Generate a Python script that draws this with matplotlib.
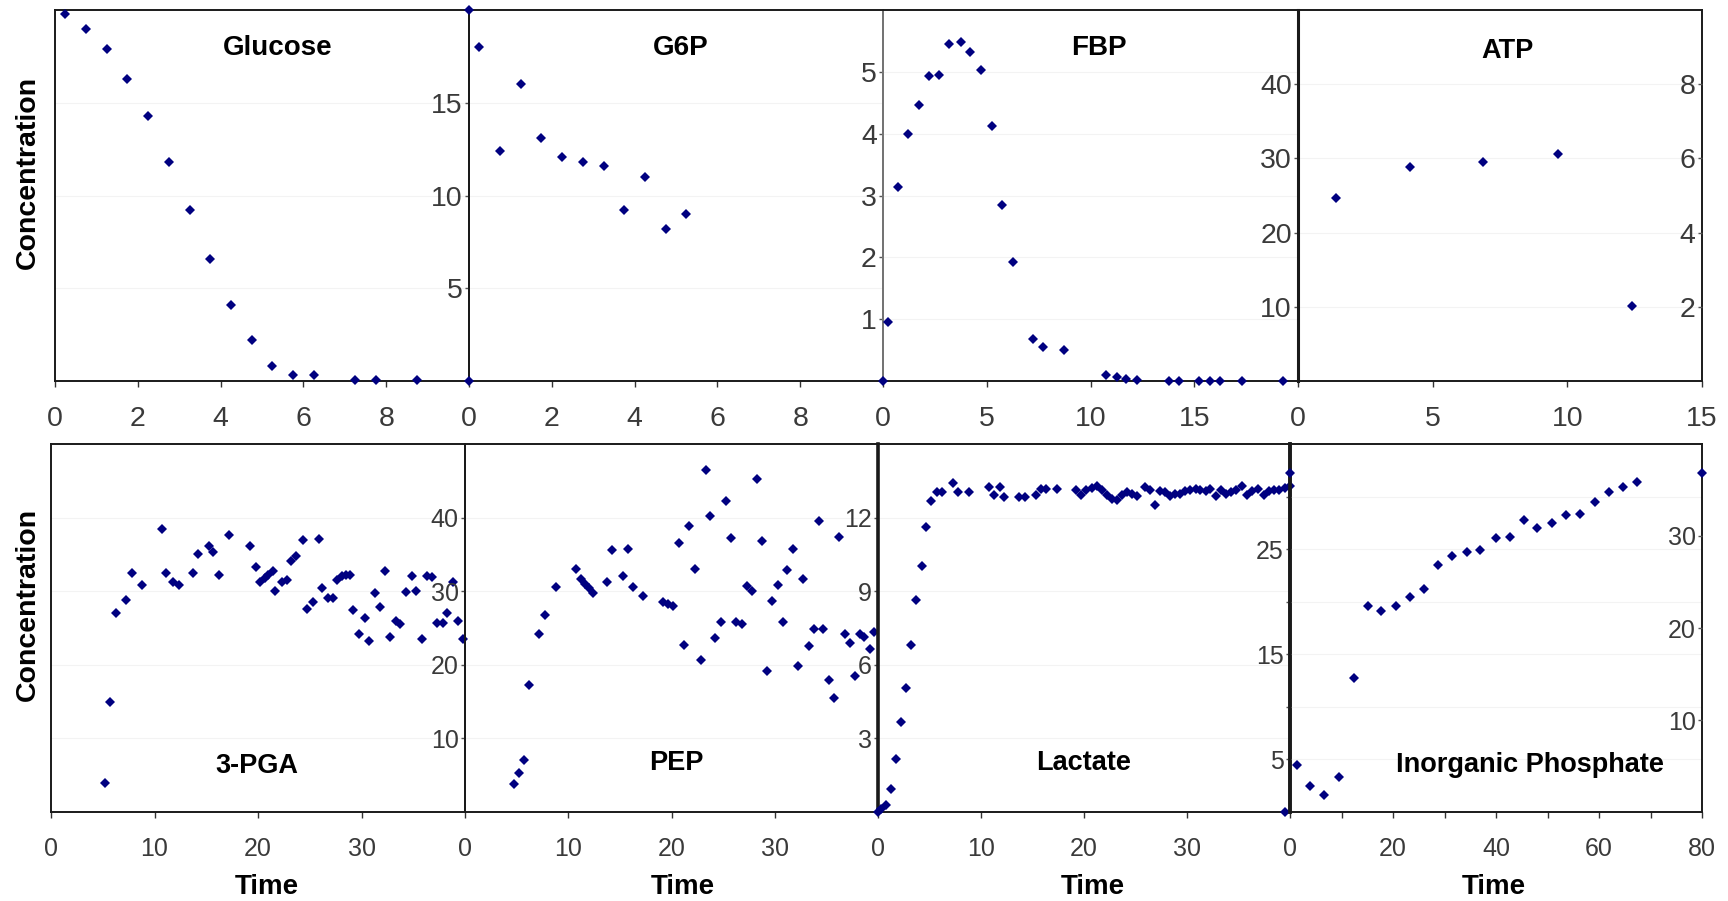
import matplotlib.pyplot as plt

plt.rcParams['font.family'] = ['Liberation Sans', 'DejaVu Sans']

NAVY = '#000080'

# ---- top row data ----
glucose_t = [0.25, 0.75, 1.25, 1.75, 2.25, 2.75, 3.25, 3.75, 4.25, 4.75, 5.25, 5.75, 6.25, 7.25, 7.75, 8.75]
glucose_c = [19.8, 19.0, 17.9, 16.3, 14.3, 11.8, 9.2, 6.6, 4.1, 2.2, 0.8, 0.35, 0.3, 0.08, 0.03, 0.03]

g6p_t = [0, 0, 0.25, 0.75, 1.25, 1.75, 2.25, 2.75, 3.25, 3.75, 4.25, 4.75, 5.25]
g6p_c = [0, 20, 18.0, 12.4, 16.0, 13.1, 12.1, 11.8, 11.6, 9.2, 11.0, 8.2, 9.0]

fbp_t = [0, 0.23, 0.74, 1.19, 1.72, 2.24, 2.72, 3.2, 3.75, 4.2, 4.73, 5.25, 5.73, 6.25,
         7.21, 7.73, 8.73, 10.74, 11.26, 11.72, 12.24, 13.77, 14.28, 15.25, 15.77, 16.25, 17.31, 19.26]
fbp_c = [0, 0.96, 3.13, 3.99, 4.47, 4.93, 4.95, 5.45, 5.49, 5.32, 5.03, 4.13, 2.84, 1.93,
         0.68, 0.55, 0.50, 0.09, 0.07, 0.04, 0.02, 0, 0, 0, 0, 0, 0, 0]

atp_t = [1.4, 4.16, 6.87, 9.64, 12.4]
atp_c = [24.7, 28.8, 29.5, 30.6, 10.1]

# ---- bottom row data ----
pga_t = [5.24, 5.72, 6.27, 7.27, 7.82, 8.78, 10.77, 11.13, 11.78, 12.32, 13.76, 14.25, 15.28, 15.7,
         16.25, 17.21, 19.24, 19.82, 20.2, 20.68, 21.0, 21.43, 21.68, 22.3, 22.84, 23.17, 23.68,
         24.32, 24.71, 25.29, 25.87, 26.19, 26.8, 27.28, 27.67, 28.09, 28.5, 28.89, 29.21, 29.76,
         30.34, 30.72, 31.3, 31.78, 32.27, 32.75, 33.33, 33.72, 34.29, 34.84, 35.26, 35.8, 36.29,
         36.84, 37.26, 37.84, 38.28, 38.8, 39.35, 39.77]
pga_c = [3.9, 15.0, 27.1, 28.8, 32.5, 30.9, 38.4, 32.5, 31.3, 30.9, 32.5, 35.1, 36.2, 35.3,
         32.2, 37.6, 36.1, 33.3, 31.3, 31.8, 32.2, 32.7, 30.0, 31.3, 31.5, 34.1, 34.8,
         37.0, 27.6, 28.6, 37.1, 30.4, 29.1, 29.1, 31.5, 32.0, 32.2, 32.2, 27.4, 24.2,
         26.3, 23.3, 29.7, 27.9, 32.7, 23.8, 26.0, 25.6, 29.9, 32.1, 30.0, 23.5, 32.0,
         31.9, 25.7, 25.7, 27.0, 31.3, 25.9, 23.5]

pep_t = [4.75, 5.27, 5.72, 6.2, 7.2, 7.75, 8.82, 10.72, 11.21, 11.63, 12.02, 12.37, 13.73, 14.24,
         15.28, 15.83, 16.31, 17.22, 19.22, 19.7, 20.19, 20.7, 21.25, 21.74, 22.29, 22.84, 23.32,
         23.74, 24.22, 24.78, 25.26, 25.78, 26.26, 26.81, 27.29, 27.78, 28.26, 28.78, 29.29, 29.78,
         30.36, 30.84, 31.23, 31.75, 32.24, 32.78, 33.27, 33.82, 34.3, 34.72, 35.21, 35.76, 36.24,
         36.76, 37.31, 37.79, 38.21, 38.69, 39.24, 39.66]
pep_c = [3.8, 5.3, 7.1, 17.3, 24.2, 26.8, 30.6, 33.0, 31.7, 31.0, 30.4, 29.8, 31.3, 35.6,
         32.0, 35.8, 30.6, 29.4, 28.6, 28.3, 28.0, 36.5, 22.7, 38.8, 33.0, 20.7, 46.4,
         40.2, 23.7, 25.8, 42.2, 37.2, 25.8, 25.6, 30.7, 30.0, 45.3, 36.8, 19.1, 28.7,
         30.8, 25.8, 32.9, 35.8, 19.9, 31.6, 22.6, 24.8, 39.6, 24.9, 17.9, 15.5, 37.4,
         24.2, 22.9, 18.5, 24.2, 23.8, 22.1, 24.4]

lac_t = [0, 0.33, 0.75, 1.23, 1.72, 2.27, 2.76, 3.24, 3.73, 4.24, 4.7, 5.18, 5.73, 6.21, 7.28, 7.8,
         8.83, 10.75, 11.26, 11.81, 12.24, 13.69, 14.31, 15.38, 15.86, 16.35, 17.42, 19.26, 19.68,
         20.23, 20.78, 21.26, 21.75, 22.23, 22.72, 23.2, 23.69, 24.17, 24.66, 25.15, 25.9, 26.45,
         26.93, 27.35, 27.83, 28.32, 28.81, 29.36, 29.84, 30.33, 30.84, 31.3, 31.82, 32.27, 32.85,
         33.34, 33.83, 34.31, 34.8, 35.38, 35.86, 36.35, 36.89, 37.48, 37.97, 38.45, 38.93, 39.49,
         39.97, 39.5]
lac_c = [0, 0.11, 0.29, 0.93, 2.15, 3.65, 5.05, 6.79, 8.65, 10.01, 11.62, 12.67, 13.03, 13.03, 13.39,
         13.03, 13.03, 13.25, 12.91, 13.25, 12.84, 12.84, 12.84, 12.94, 13.17, 13.17, 13.17, 13.11,
         12.94, 13.14, 13.21, 13.28, 13.11, 12.94, 12.76, 12.71, 12.91, 13.03, 12.98, 12.9, 13.25,
         13.11, 12.53, 13.07, 13.03, 12.9, 12.98, 12.98, 13.07, 13.11, 13.17, 13.11, 13.07, 13.17,
         12.9, 13.11, 12.98, 13.03, 13.11, 13.28, 12.94, 13.07, 13.17, 12.94, 13.07, 13.14, 13.11,
         13.21, 13.28, 0]

pi_t = [0, 1.28, 3.95, 6.67, 9.46, 12.51, 15.1, 17.7, 20.62, 23.35, 26.0, 28.72, 31.52, 34.36,
        36.96, 39.94, 42.67, 45.39, 47.98, 50.97, 53.56, 56.28, 59.2, 61.93, 64.59, 67.32, 80]
pi_c = [36.9, 5.09, 2.8, 1.83, 3.83, 14.59, 22.37, 21.83, 22.37, 23.39, 24.29, 26.83, 27.8, 28.28,
        28.46, 29.73, 29.91, 31.72, 30.89, 31.36, 32.23, 32.34, 33.72, 34.8, 35.35, 35.85, 36.9]

W, H = 1728, 901
fig = plt.figure(figsize=(W / 100, H / 100), dpi=100)


def add_panel(x0, x1, y0, y1):
    ax = fig.add_axes([x0 / W, 1 - y1 / H, (x1 - x0) / W, (y1 - y0) / H])
    ax.set_facecolor('none')
    for s in ax.spines.values():
        s.set_linewidth(1.4)
        s.set_color('#1a1a1a')
    return ax


def style(ax, fs, xticks, xlabels, yticks, ylabels, xlim, ylim):
    ax.set_xlim(*xlim)
    ax.set_ylim(*ylim)
    ax.set_xticks(xticks)
    ax.set_xticklabels(xlabels)
    ax.set_yticks(yticks)
    ax.set_yticklabels(ylabels)
    ax.tick_params(axis='x', direction='out', length=4, width=1, pad=14,
                   labelsize=fs, labelcolor='#3a3a3a', color='#333333')
    ax.tick_params(axis='y', direction='out', length=3, width=1, pad=1.5,
                   labelsize=fs, labelcolor='#3a3a3a', color='#555555')
    ax.grid(axis='y', color='#f3f3f3', lw=0.8)
    ax.set_axisbelow(True)


def inner_right(ax, fs, ylim, ticks, labels):
    tw = ax.twinx()
    tw.set_ylim(*ylim)
    tw.spines['left'].set_position(('axes', 1.0))
    tw.yaxis.set_ticks_position('left')
    for s in tw.spines.values():
        s.set_visible(False)
    tw.set_yticks(ticks)
    tw.set_yticklabels(labels)
    tw.tick_params(axis='y', direction='out', length=3, width=1, pad=1.5,
                   labelsize=fs, labelcolor='#3a3a3a', color='#555555')
    return tw


def dots(ax, t, c):
    ax.plot(t, c, 'D', color=NAVY, ms=4.9, mew=0, ls='none', clip_on=False, zorder=5)


def title(ax, s, x, y, fs):
    ax.text(x, y, s, transform=ax.transAxes, ha='center', va='center',
            fontsize=fs, fontweight='bold', color='black', zorder=6)


FT, FB = 20.5, 18

# top row
ax = add_panel(55, 469, 10, 381)
dots(ax, glucose_t, glucose_c)
style(ax, FT, [0, 2, 4, 6, 8], ['0', '2', '4', '6', '8'], [5, 10, 15], ['', '', ''], (0, 10), (0, 20))
ax.tick_params(axis='y', length=0)
title(ax, 'Glucose', 0.537, 0.897, 20)

ax = add_panel(469, 883, 10, 381)
dots(ax, g6p_t, g6p_c)
style(ax, FT, [0, 2, 4, 6, 8], ['0', '2', '4', '6', '8'], [5, 10, 15], ['5', '10', '15'], (0, 10), (0, 20))
title(ax, 'G6P', 0.512, 0.897, 20)

ax = add_panel(883, 1298, 10, 381)
dots(ax, fbp_t, fbp_c)
style(ax, FT, [0, 5, 10, 15], ['0', '5', '10', '15'], [1, 2, 3, 4, 5], ['1', '2', '3', '4', '5'], (0, 20), (0, 6))
ax.spines['left'].set_color('#777777')
title(ax, 'FBP', 0.521, 0.897, 20)

ax = add_panel(1298, 1702, 10, 381)
dots(ax, atp_t, atp_c)
style(ax, FT, [0, 5, 10, 15], ['0', '5', '10', '15'], [10, 20, 30, 40], ['10', '20', '30', '40'], (0, 15), (0, 50))
ax.spines['left'].set_linewidth(2.2)
inner_right(ax, FT, (0, 10), [2, 4, 6, 8], ['2', '4', '6', '8'])
title(ax, 'ATP', 0.519, 0.89, 19.5)

# bottom row
ax = add_panel(51, 465, 444, 812)
dots(ax, pga_t, pga_c)
style(ax, FB, [0, 10, 20, 30], ['0', '10', '20', '30'], [10, 20, 30, 40], ['', '', '', ''], (0, 40), (0, 50))
ax.tick_params(axis='y', length=0)
title(ax, '3-PGA', 0.497, 0.125, 19.5)

ax = add_panel(465, 878, 444, 812)
dots(ax, pep_t, pep_c)
style(ax, FB, [0, 10, 20, 30], ['0', '10', '20', '30'], [10, 20, 30, 40], ['10', '20', '30', '40'], (0, 40), (0, 50))
title(ax, 'PEP', 0.512, 0.132, 19.5)

ax = add_panel(878, 1290, 444, 812)
dots(ax, lac_t, lac_c)
style(ax, FB, [0, 10, 20, 30], ['0', '10', '20', '30'], [3, 6, 9, 12], ['3', '6', '9', '12'], (0, 40), (0, 15))
ax.spines['left'].set_linewidth(2.6)
ax.spines['right'].set_linewidth(2.6)
title(ax, 'Lactate', 0.499, 0.132, 19.5)

ax = add_panel(1290, 1702, 444, 812)
style(ax, FB, list(range(0, 90, 10)), ['0', '', '20', '', '40', '', '60', '', '80'],
      [5, 10, 15, 20, 25, 30], ['5', '', '15', '', '25', ''], (0, 80), (0, 35))
ax.spines['left'].set_linewidth(2.6)
tw = inner_right(ax, FB, (0, 40), [10, 20, 30], ['10', '20', '30'])
dots(tw, pi_t, pi_c)
title(ax, 'Inorganic Phosphate', 0.5815, 0.128, 19.5)

# shared axis labels
for yc in (172, 604):
    fig.text(28 / W, 1 - yc / H, 'Concentration', rotation=90, ha='center', va='center',
             fontsize=20.5, fontweight='bold')
for xc in (267, 683, 1093, 1494):
    fig.text(xc / W, 1 - 887 / H, 'Time', ha='center', va='center', fontsize=20, fontweight='bold')

fig.savefig('out.png', dpi=100, facecolor='white')
